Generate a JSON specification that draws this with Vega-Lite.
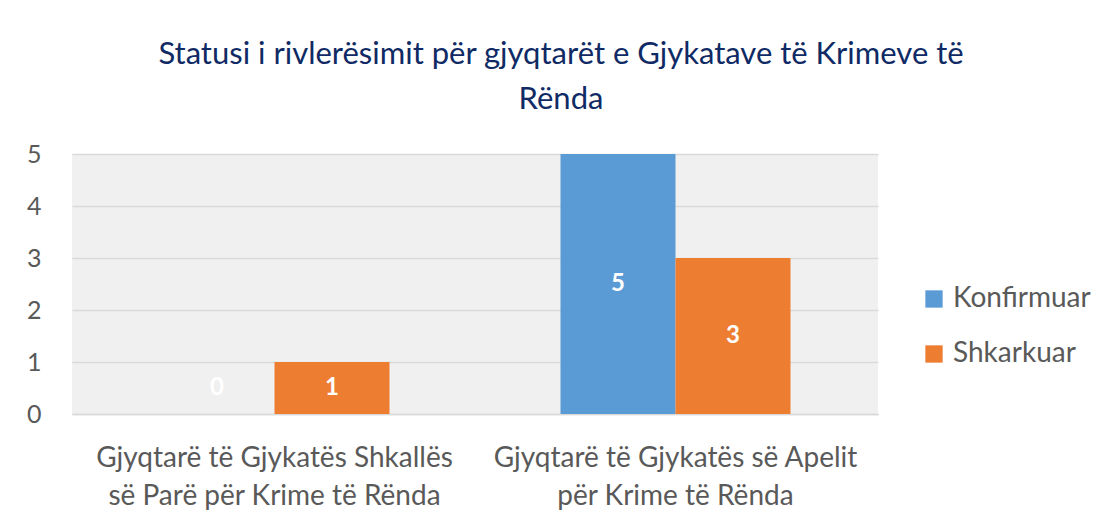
{
  "$schema": "https://vega.github.io/schema/vega-lite/v6.json",
  "width": 806,
  "height": 260,
  "autosize": {"type": "none"},
  "padding": {"left": 72, "top": 154, "right": 227, "bottom": 111},
  "background": "white",
  "config": {
    "font": "Lato",
    "view": {"fill": "#f0f0f0", "stroke": null},
    "axisY": {
      "values": [0, 1, 2, 3, 4, 5],
      "labelOverlap": false,
      "labelFontSize": 25,
      "labelColor": "#595959",
      "labelPadding": 31,
      "ticks": false,
      "domain": false,
      "gridColor": "#d9d9d9",
      "gridWidth": 1.5,
      "title": null
    }
  },
  "title": {
    "text": ["Statusi i rivlerësimit për gjyqtarët e Gjykatave të Krimeve të", "Rënda"],
    "fontSize": 31,
    "fontWeight": "normal",
    "color": "#0f2a64",
    "anchor": "middle",
    "frame": "group",
    "dx": 86,
    "offset": 26,
    "lineHeight": 45
  },
  "data": {
    "values": [
      {"grupi": "Gjyqtarë të Gjykatës Shkallës|së Parë për Krime të Rënda", "statusi": "Konfirmuar", "vlera": 0},
      {"grupi": "Gjyqtarë të Gjykatës Shkallës|së Parë për Krime të Rënda", "statusi": "Shkarkuar", "vlera": 1},
      {"grupi": "Gjyqtarë të Gjykatës së Apelit|për Krime të Rënda", "statusi": "Konfirmuar", "vlera": 5},
      {"grupi": "Gjyqtarë të Gjykatës së Apelit|për Krime të Rënda", "statusi": "Shkarkuar", "vlera": 3}
    ]
  },
  "encoding": {
    "x": {
      "field": "grupi",
      "type": "nominal",
      "sort": null,
      "scale": {"paddingInner": 0.4264, "paddingOuter": 0.2182},
      "axis": {
        "title": null,
        "labelAngle": 0,
        "labelExpr": "split(datum.label, '|')",
        "labelFontSize": 28,
        "labelColor": "#595959",
        "labelPadding": 30,
        "labelLineHeight": 38,
        "ticks": false,
        "domainColor": "#d9d9d9",
        "domainWidth": 1.5,
        "labelLimit": 500
      }
    },
    "xOffset": {"field": "statusi", "type": "nominal", "sort": ["Konfirmuar", "Shkarkuar"]}
  },
  "layer": [
    {
      "mark": {"type": "bar"},
      "encoding": {
        "y": {
          "field": "vlera",
          "type": "quantitative",
          "scale": {"domain": [0, 5]},
          "title": null
        },
        "color": {
          "field": "statusi",
          "type": "nominal",
          "scale": {"domain": ["Konfirmuar", "Shkarkuar"], "range": ["#5b9bd5", "#ed7d31"]},
          "legend": {
            "title": null,
            "orient": "none",
            "legendX": 848,
            "legendY": 131,
            "symbolType": "square",
            "symbolSize": 300,
            "symbolStrokeWidth": 0,
            "labelFontSize": 28,
            "labelColor": "#595959",
            "labelOffset": 5,
            "rowPadding": 27
          }
        }
      }
    },
    {
      "transform": [{"calculate": "max(datum.vlera / 2, 0.5)", "as": "mes"}],
      "mark": {"type": "text", "color": "white", "fontWeight": "bold", "fontSize": 24, "baseline": "middle"},
      "encoding": {
        "y": {"field": "mes", "type": "quantitative", "title": null},
        "text": {"field": "vlera", "type": "quantitative"}
      }
    }
  ]
}
